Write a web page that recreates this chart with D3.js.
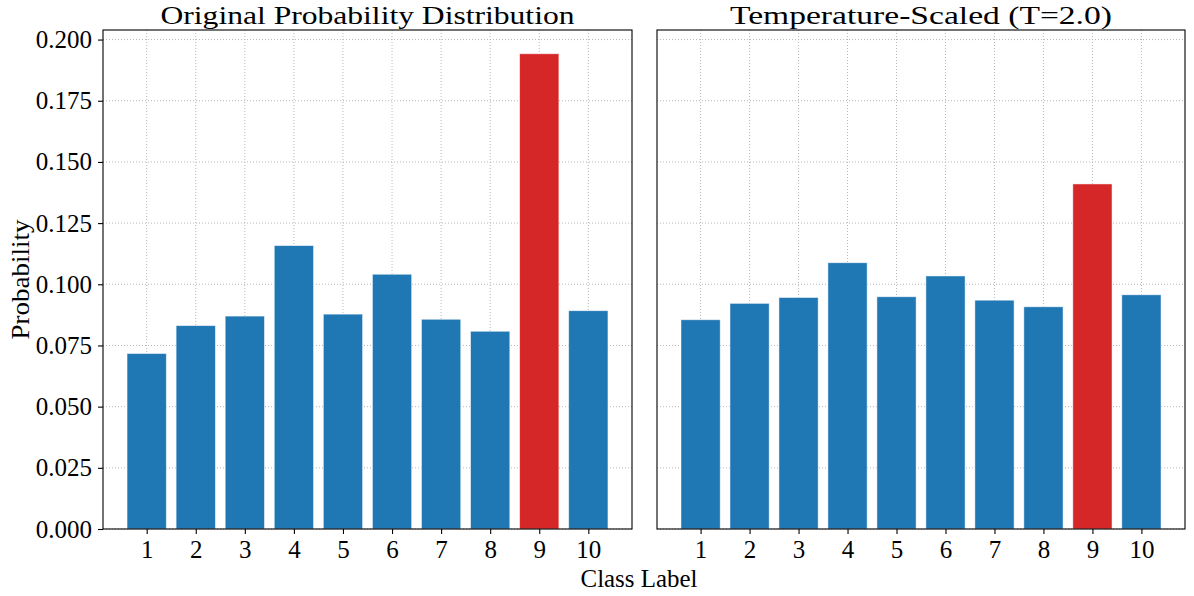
<!DOCTYPE html>
<html>
<head>
<meta charset="utf-8">
<script src="https://cdn.jsdelivr.net/npm/d3@7"></script>
<style>
  body { margin: 0; background: #fff; }
  svg text { font-family: "Liberation Serif", "DejaVu Serif", serif; fill: #000; }
</style>
</head>
<body>
<div id="chart"></div>
<script>
const W = 1194, H = 596;

const classes = [1, 2, 3, 4, 5, 6, 7, 8, 9, 10];
const originalProbs = [0.0717, 0.0831, 0.0870, 0.1158, 0.0878, 0.1041, 0.0857, 0.0808, 0.1942, 0.0892];
const scaledProbs = [0.0855, 0.0922, 0.0946, 0.1088, 0.0949, 0.1034, 0.0935, 0.0908, 0.1410, 0.0957];
const yTicks = [0, 0.025, 0.05, 0.075, 0.1, 0.125, 0.15, 0.175, 0.2];
const titles = ["Original Probability Distribution", "Temperature-Scaled (T=2.0)"];
const highlightClass = 9;

const panelTop = 30, panelBottom = 529;
const panels = [
    {left: 103, right: 632, values: originalProbs, title: titles[0], titleW: 414, showY: true},
    {left: 657, right: 1185, values: scaledProbs, title: titles[1], titleW: 382, showY: false}
];

const svg = d3.select("#chart").append("svg")
    .attr("width", W)
    .attr("height", H);

// shared y scale, same as sharey
const yMax = d3.max(originalProbs.concat(scaledProbs)) * 1.05;
const y = d3.scaleLinear().domain([0, yMax]).range([panelBottom, panelTop]);

panels.forEach(p => {
    // matplotlib bar margins: bars span 0.6..10.4, plus 5%
    const span = 10.4 - 0.6;
    const x = d3.scaleLinear()
        .domain([0.6 - span * 0.05, 10.4 + span * 0.05])
        .range([p.left, p.right]);
    const barW = x(0.8) - x(0);

    const g = svg.append("g");

    // grid (below bars)
    g.append("g").selectAll("line.gy")
        .data(yTicks)
        .join("line")
        .attr("x1", p.left).attr("x2", p.right)
        .attr("y1", d => y(d)).attr("y2", d => y(d))
        .attr("stroke", "#b0b0b0").attr("stroke-width", 0.9)
        .attr("stroke-dasharray", "1,2");
    g.append("g").selectAll("line.gx")
        .data(classes)
        .join("line")
        .attr("x1", d => x(d)).attr("x2", d => x(d))
        .attr("y1", panelTop).attr("y2", panelBottom)
        .attr("stroke", "#b0b0b0").attr("stroke-width", 0.9)
        .attr("stroke-dasharray", "1,2");

    // bars
    g.append("g").selectAll("rect")
        .data(classes)
        .join("rect")
        .attr("x", d => x(d) - barW / 2)
        .attr("width", barW)
        .attr("y", (d, i) => y(p.values[i]))
        .attr("height", (d, i) => panelBottom - y(p.values[i]))
        .attr("fill", d => d === highlightClass ? "#d62728" : "#1f77b4")
        .attr("stroke", "#ffffff")
        .attr("stroke-opacity", 0.6)
        .attr("stroke-width", 0.8);

    // frame
    g.append("rect")
        .attr("x", p.left).attr("y", panelTop)
        .attr("width", p.right - p.left).attr("height", panelBottom - panelTop)
        .attr("fill", "none").attr("stroke", "#000").attr("stroke-width", 1.1);

    // x axis
    const xAxis = d3.axisBottom(x).tickValues(classes).tickSize(5).tickPadding(6).tickFormat(d3.format("d"));
    const xa = g.append("g")
        .attr("transform", `translate(0,${panelBottom})`)
        .call(xAxis);
    xa.select(".domain").remove();
    xa.selectAll(".tick line").attr("stroke", "#000").attr("stroke-width", 1.1);
    xa.selectAll(".tick text").attr("font-size", 25).style("font-family", "Liberation Serif, serif");

    // y axis
    if (p.showY) {
        const yAxis = d3.axisLeft(y).tickValues(yTicks).tickSize(5).tickPadding(6).tickFormat(d3.format(".3f"));
        const ya = g.append("g")
            .attr("transform", `translate(${p.left},0)`)
            .call(yAxis);
        ya.select(".domain").remove();
        ya.selectAll(".tick line").attr("stroke", "#000").attr("stroke-width", 1.1);
        ya.selectAll(".tick text").attr("font-size", 25).style("font-family", "Liberation Serif, serif");
    }

    // title
    g.append("text")
        .attr("x", (p.left + p.right) / 2)
        .attr("y", 24)
        .attr("text-anchor", "middle")
        .attr("font-size", 26)
        .attr("textLength", p.titleW)
        .attr("lengthAdjust", "spacingAndGlyphs")
        .text(p.title);
});

// axis labels
svg.append("text")
    .attr("x", 639)
    .attr("y", 587)
    .attr("text-anchor", "middle")
    .attr("font-size", 25)
    .attr("textLength", 117)
    .attr("lengthAdjust", "spacingAndGlyphs")
    .text("Class Label");

svg.append("text")
    .attr("transform", `translate(29,${(panelTop + panelBottom) / 2}) rotate(-90)`)
    .attr("text-anchor", "middle")
    .attr("font-size", 25)
    .attr("textLength", 120)
    .attr("lengthAdjust", "spacingAndGlyphs")
    .text("Probability");
</script>
</body>
</html>
